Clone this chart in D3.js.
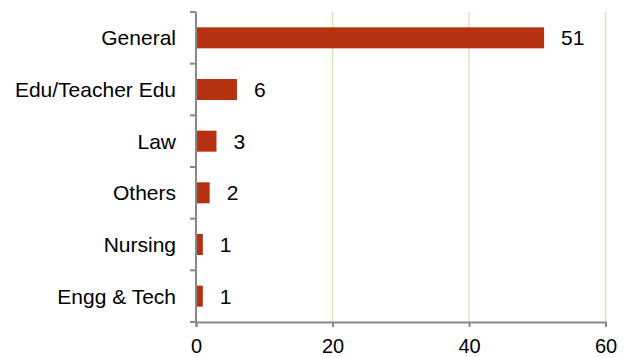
<!DOCTYPE html>
<html lang="en">
<head>
<meta charset="UTF-8">
<title>bar chart</title>
<script src="https://cdn.jsdelivr.net/npm/d3@7"></script>
<style>
  body { margin: 0; background: #fff; }
  text { font-family: "Liberation Sans", Arial, sans-serif; }
</style>
</head>
<body>
<div id="container"></div>
<script>
    const width = 629;
    const height = 358;
    const margin = { top: 12, left: 196, right: 24, bottom: 36 };
    const fontSize = 21;

    const categories = ['General', 'Edu/Teacher Edu', 'Law', 'Others', 'Nursing', 'Engg & Tech'];
    const values = [51, 6, 3, 2, 1, 1];
    const xTicks = [0, 20, 40, 60];

    const data = categories.map((c, i) => ({ name: c, value: values[i] }));

    const x = d3.scaleLinear().domain([0, 60]).range([margin.left, 605.5]);
    const y = d3.scaleBand().domain(categories).range([margin.top, height - margin.bottom]).paddingInner(0.6).paddingOuter(0.3);

    const svg = d3.select('#container').append('svg')
        .attr('width', width)
        .attr('height', height);

    // grid lines
    svg.append('g').selectAll('line').data(xTicks.filter(d => d > 0)).join('line')
        .attr('x1', d => x(d)).attr('x2', d => x(d))
        .attr('y1', margin.top).attr('y2', height - margin.bottom)
        .attr('stroke', '#d8e7b9')
        .attr('stroke-width', 1.5);

    // bars
    svg.append('g').selectAll('rect').data(data).join('rect')
        .attr('x', x(0))
        .attr('y', d => y(d.name) + y.bandwidth() / 2 - 10.5)
        .attr('width', d => x(d.value) - x(0))
        .attr('height', 21)
        .attr('fill', '#b5310f');

    // value labels
    svg.append('g').selectAll('text').data(data).join('text')
        .attr('x', d => x(d.value) + 17)
        .attr('y', d => y(d.name) + y.bandwidth() / 2)
        .attr('dy', '0.35em')
        .attr('font-size', fontSize)
        .attr('fill', '#000')
        .text(d => d.value);

    // x axis
    const gx = svg.append('g')
        .attr('transform', `translate(0, ${height - margin.bottom})`)
        .call(d3.axisBottom(x).tickValues(xTicks).tickSizeOuter(0).tickSize(5).tickPadding(12));
    gx.select('.domain').attr('stroke', '#898989').attr('stroke-width', 2);
    gx.selectAll('.tick line').attr('stroke', '#898989').attr('stroke-width', 2);
    gx.selectAll('.tick text').attr('font-size', 20).attr('fill', '#000')
        .style('font-family', '"Liberation Sans", Arial, sans-serif');

    // y axis with ticks at category boundaries
    const step = (height - margin.bottom - margin.top) / categories.length;
    const gy = svg.append('g').attr('transform', `translate(${margin.left}, 0)`);
    gy.append('line')
        .attr('x1', 0).attr('x2', 0)
        .attr('y1', margin.top).attr('y2', height - margin.bottom)
        .attr('stroke', '#898989').attr('stroke-width', 2);
    gy.selectAll('.bt').data(d3.range(categories.length + 1)).join('line')
        .attr('class', 'bt')
        .attr('x1', -6).attr('x2', 0)
        .attr('y1', i => margin.top + i * step).attr('y2', i => margin.top + i * step)
        .attr('stroke', '#898989').attr('stroke-width', 2);
    gy.selectAll('text').data(categories).join('text')
        .attr('x', -20)
        .attr('y', d => y(d) + y.bandwidth() / 2)
        .attr('dy', '0.35em')
        .attr('text-anchor', 'end')
        .attr('font-size', fontSize)
        .attr('fill', '#000')
        .text(d => d);
</script>
</body>
</html>
